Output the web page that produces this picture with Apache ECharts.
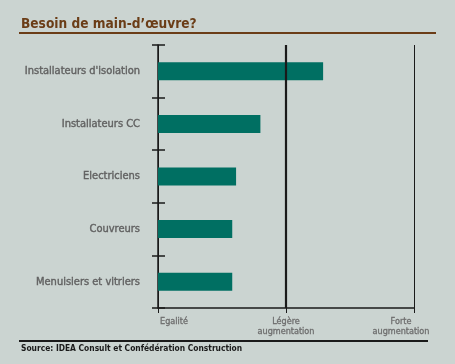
<!DOCTYPE html>
<html><head><meta charset="utf-8">
<script src="https://cdn.jsdelivr.net/npm/echarts@6/dist/echarts.min.js"></script>
<style>html,body{margin:0;padding:0;background:#cbd4d1;}#c{width:455px;height:364px;}</style>
</head><body><div id="c"></div>
<script>
const categories = ["Installateurs d'isolation", "Installateurs CC", "Electriciens", "Couvreurs", "Menuisiers et vitriers"];
const values = [1.29, 0.80, 0.61, 0.58, 0.58];
const xTickLabels = ["Egalité", "Légère\naugmentation", "Forte\naugmentation"];

const chart = echarts.init(document.getElementById('c'));
const F = '"DejaVu Sans Condensed", sans-serif';
const xl = {color: '#6e6e6e', fontFamily: F, fontSize: 9, lineHeight: 10, textBorderColor: '#6e6e6e', textBorderWidth: 0.3};
chart.setOption({
  backgroundColor: '#cbd4d1',
  animation: false,
  title: {
    text: "Besoin de main-d\u2019œuvre?",
    left: 21, top: 17, padding: 0,
    textStyle: {color: '#6b3d17', fontFamily: F, fontWeight: 'bold', fontSize: 13.6}
  },
  graphic: [
    {type: 'line', shape: {x1: 19, y1: 33, x2: 436, y2: 33}, style: {stroke: '#6b3d17', lineWidth: 2}},
    {type: 'line', shape: {x1: 19, y1: 341, x2: 428, y2: 341}, style: {stroke: '#1a1a1a', lineWidth: 2}},
    {type: 'text', left: 21, top: 345, style: {text: 'Source: IDEA Consult et Confédération Construction', fill: '#1a1a1a', font: 'bold 8.4px ' + F}}
  ],
  grid: {left: 158, right: 41, top: 45, bottom: 56, containLabel: false, outerBoundsMode: 'none'},
  xAxis: {
    type: 'value', min: 0, max: 2, interval: 1,
    axisLine: {show: true, lineStyle: {color: '#1a1a1a', width: 1.5}},
    axisTick: {show: true, length: 5, lineStyle: {color: '#1a1a1a', width: 1}},
    splitLine: {show: true, lineStyle: {color: '#1a1a1a', width: 1}},
    axisLabel: Object.assign({}, xl, {
      margin: 9,
      formatter: function (v) {
        const t = xTickLabels[Math.round(v)];
        if (v === 0) return '{a|' + t + '}';
        const p = t.split('\n');
        if (v === 2) return '{c|' + p[0] + '}\n{c|' + p[1] + '}';
        return '{b|' + p[0] + '}\n{b|' + p[1] + '}';
      },
      rich: {
        a: Object.assign({padding: [0, 0, 0, 32]}, xl),
        b: Object.assign({}, xl),
        c: Object.assign({padding: [0, 26, 0, 0]}, xl)
      }
    })
  },
  yAxis: [{
    type: 'category', data: categories, inverse: true,
    axisLine: {show: true, lineStyle: {color: '#1a1a1a', width: 1.5}},
    axisTick: {show: true, length: 6, lineStyle: {color: '#1a1a1a', width: 1.5}},
    axisLabel: {color: '#626262', fontFamily: F, fontSize: 11, margin: 18, textBorderColor: '#626262', textBorderWidth: 0.4}
  }, {
    type: 'category', data: categories, inverse: true, position: 'left',
    axisLine: {show: false},
    axisTick: {show: true, inside: true, length: 7, lineStyle: {color: '#1a1a1a', width: 1.5}},
    axisLabel: {show: false}
  }],
  series: [{
    type: 'bar', data: values, yAxisIndex: 0, barWidth: 18,
    itemStyle: {color: '#006f62'},
    markLine: {
      silent: true, symbol: 'none', label: {show: false},
      lineStyle: {color: '#1a1a1a', width: 2.2, type: 'solid'},
      data: [{xAxis: 1}]
    }
  }]
});
</script></body></html>
